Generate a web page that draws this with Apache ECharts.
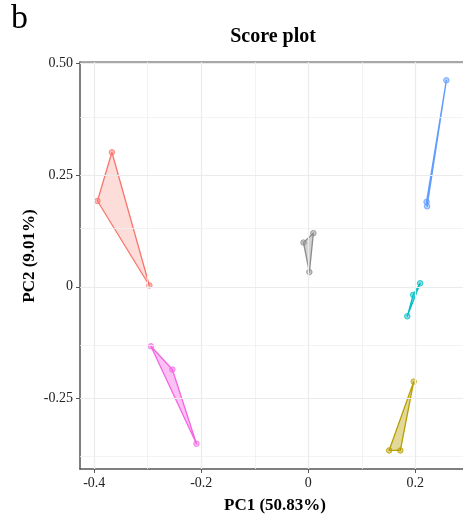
<!DOCTYPE html>
<html>
<head>
<meta charset="utf-8">
<script src="https://cdn.jsdelivr.net/npm/echarts@6/dist/echarts.min.js"></script>
<style>
  html, body { margin: 0; padding: 0; background: #fff; }
  #chart { width: 463px; height: 518px; }
</style>
</head>
<body>
<div id="chart"></div>
<script>
// PCA score points (PC1, PC2)
var groupNames = ['A', 'B', 'QC', 'C', 'D', 'E'];
var groupColors = ['#F8766D', '#F564E3', '#8C8C8C', '#619CFF', '#00BFC4', '#B79F00'];
var ptsA = [[-0.394, 0.192], [-0.367, 0.301], [-0.297, 0.003]];
var ptsB = [[-0.294, -0.133], [-0.254, -0.185], [-0.209, -0.351]];
var ptsQC = [[0.0095, 0.120], [-0.009, 0.099], [0.002, 0.033]];
var ptsC = [[0.258, 0.462], [0.221, 0.190], [0.222, 0.180]];
var ptsD = [[0.209, 0.008], [0.196, -0.018], [0.185, -0.066]];
var ptsE = [[0.197, -0.212], [0.151, -0.366], [0.172, -0.366]];
var groups = [ptsA, ptsB, ptsQC, ptsC, ptsD, ptsE];

// axis ticks
var xTicks = [-0.4, -0.2, 0, 0.2];
var xTickLabels = ['-0.4', '-0.2', '0', '0.2'];
var xMinor = [-0.3, -0.1, 0.1];
var yTicks = [0.5, 0.25, 0, -0.25];
var yTickLabels = ['0.50', '0.25', '0', '-0.25'];
var yMinor = [0.375, 0.125, -0.125, -0.375];

var serif = '"Liberation Serif", "DejaVu Serif", serif';

var chart = echarts.init(document.getElementById('chart'));

function tickFmt(ticks, labels) {
    return function (v) {
        for (var i = 0; i < ticks.length; i++) {
            if (Math.abs(ticks[i] - v) < 1e-9) return labels[i];
        }
        return '';
    };
}

var series = [];

// grid lines drawn as mark lines so they sit on the real tick values
series.push({
    type: 'scatter',
    data: [],
    silent: true,
    z: 0,
    markLine: {
        silent: true,
        symbol: 'none',
        animation: false,
        label: { show: false },
        emphasis: { disabled: true },
        data: []
            .concat(xMinor.map(function (v) { return { xAxis: v, lineStyle: { color: '#F0F0F0', width: 0.8, type: 'solid' } }; }))
            .concat(yMinor.map(function (v) { return { yAxis: v, lineStyle: { color: '#F0F0F0', width: 0.8, type: 'solid' } }; }))
            .concat(xTicks.map(function (v) { return { xAxis: v, lineStyle: { color: '#EBEBEB', width: 1.2, type: 'solid' } }; }))
            .concat(yTicks.map(function (v) { return { yAxis: v, lineStyle: { color: '#EBEBEB', width: 1.2, type: 'solid' } }; }))
    }
});

// hull polygons + points per group
groups.forEach(function (pts, gi) {
    var col = groupColors[gi];
    series.push({
        type: 'custom',
        name: groupNames[gi],
        data: pts,
        z: 2,
        renderItem: function (params, api) {
            if (params.dataIndex !== 0) return null;
            var poly = pts.map(function (p) { return api.coord(p); });
            return {
                type: 'polygon',
                shape: { points: poly },
                style: {
                    fill: echarts.color.modifyAlpha(col, gi === 0 ? 0.25 : 0.4),
                    stroke: col,
                    lineWidth: 1.3,
                    lineJoin: 'round'
                }
            };
        }
    });
    series.push({
        type: 'scatter',
        name: groupNames[gi],
        data: pts,
        symbol: 'circle',
        symbolSize: 5.5,
        z: 3,
        itemStyle: { color: echarts.color.modifyAlpha(col, 0.6), borderColor: col, borderWidth: 1 }
    });
});

var option = {
    animation: false,
    backgroundColor: '#fff',
    title: {
        text: 'Score plot',
        left: 268,
        top: 22,
        textAlign: 'center',
        textStyle: { fontFamily: serif, fontWeight: 'bold', fontSize: 20, color: '#000' }
    },
    graphic: [
        {
            type: 'text', left: 11, top: 2,
            style: { text: 'b', font: '34px ' + serif, fill: '#000' }
        },
        {
            type: 'text', x: 30, y: 256, rotation: Math.PI / 2,
            style: { text: 'PC2 (9.01%)', font: 'bold 17px ' + serif, fill: '#000', align: 'center', verticalAlign: 'middle' }
        }
    ],
    grid: { left: 80, right: 0, top: 62, bottom: 49, containLabel: false, outerBoundsMode: 'none' },
    xAxis: [{
        type: 'value',
        min: -0.4266,
        max: 0.2891,
        name: 'PC1 (50.83%)',
        nameLocation: 'middle',
        nameGap: 28,
        nameTextStyle: { fontFamily: serif, fontWeight: 'bold', fontSize: 17, color: '#000', padding: [0, 0, 0, 7] },
        axisLine: { show: true, onZero: false, lineStyle: { color: '#555', width: 1.5 } },
        axisTick: { show: true, length: 4, customValues: xTicks, lineStyle: { color: '#555', width: 1 } },
        axisLabel: { customValues: xTicks, formatter: tickFmt(xTicks, xTickLabels), fontFamily: serif, fontSize: 14, color: '#222', margin: 7 },
        splitLine: { show: false }
    }, {
        type: 'value',
        position: 'top',
        min: -0.4266,
        max: 0.2891,
        axisLine: { show: true, onZero: false, lineStyle: { color: '#8a8a8a', width: 1.5 } },
        axisTick: { show: false },
        axisLabel: { show: false },
        splitLine: { show: false }
    }],
    yAxis: {
        type: 'value',
        min: -0.4075,
        max: 0.5029,
        axisLine: { show: true, onZero: false, lineStyle: { color: '#555', width: 1.5 } },
        axisTick: { show: true, length: 4, customValues: yTicks, lineStyle: { color: '#555', width: 1 } },
        axisLabel: { customValues: yTicks, formatter: tickFmt(yTicks, yTickLabels), fontFamily: serif, fontSize: 14, color: '#222', margin: 7 },
        splitLine: { show: false }
    },
    series: series
};

chart.setOption(option);
</script>
</body>
</html>
